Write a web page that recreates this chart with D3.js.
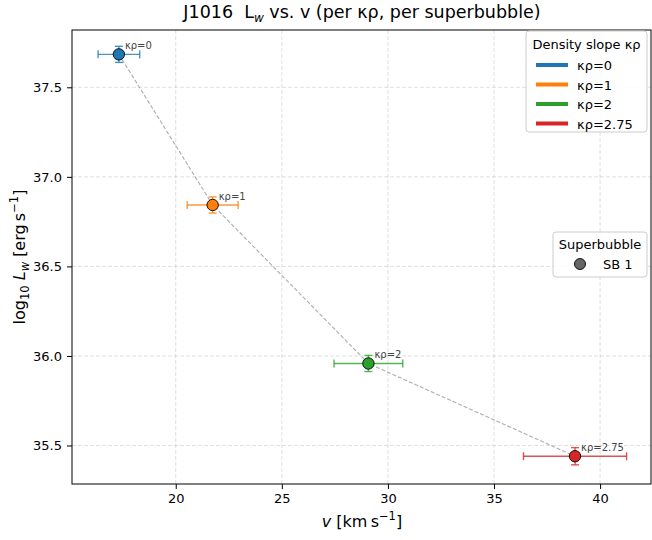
<!DOCTYPE html>
<html><head><meta charset="utf-8">
<script src="https://cdn.jsdelivr.net/npm/d3@7/dist/d3.min.js"></script>
<style>body{margin:0;background:#fff}svg{display:block}text{font-family:"DejaVu Sans",sans-serif;white-space:pre}</style>
</head><body><svg id="c" width="652" height="540"></svg>
<script>
const kappaLabels = ["κρ=0","κρ=1","κρ=2","κρ=2.75"];
const velocity = [17.32, 21.74, 29.08, 38.82];
const velocityErr = [0.98, 1.2, 1.62, 2.43];
const logLw = [37.684, 36.843, 35.958, 35.440];
const logLwErr = [0.045, 0.045, 0.045, 0.048];
const colors = ["#1f77b4","#ff7f0e","#2ca02c","#d62728"];
const xTicks = [20,25,30,35,40];
const yTicks = [35.5,36.0,36.5,37.0,37.5];
const xDomain = [15.11, 42.4];
const yDomain = [35.285, 37.82];

const svg = d3.select("#c");
const L=72, R=651, T=30, B=484;
const x = d3.scaleLinear().domain(xDomain).range([L,R]);
const y = d3.scaleLinear().domain(yDomain).range([B,T]);

// grid
const g = svg.append("g");
g.selectAll(".gx").data(xTicks).enter().append("line")
 .attr("x1",d=>x(d)).attr("x2",d=>x(d)).attr("y1",T).attr("y2",B)
 .attr("stroke","#b0b0b0").attr("stroke-opacity",0.5).attr("stroke-dasharray","4,2").attr("stroke-width",0.8);
g.selectAll(".gy").data(yTicks).enter().append("line")
 .attr("y1",d=>y(d)).attr("y2",d=>y(d)).attr("x1",L).attr("x2",R)
 .attr("stroke","#b0b0b0").attr("stroke-opacity",0.5).attr("stroke-dasharray","4,2").attr("stroke-width",0.8);

// axes
const xa = svg.append("g").attr("transform",`translate(0,${B})`)
 .call(d3.axisBottom(x).tickValues(xTicks).tickSize(5).tickPadding(5).tickFormat(d3.format("d")));
const ya = svg.append("g").attr("transform",`translate(${L},0)`)
 .call(d3.axisLeft(y).tickValues(yTicks).tickSize(5).tickPadding(5).tickFormat(d3.format(".1f")));
[xa,ya].forEach(a=>{a.select(".domain").remove();a.selectAll("text").attr("font-size",13).attr("fill","#000").style("font-family","DejaVu Sans");a.selectAll("line").attr("stroke","#000");});
svg.append("rect").attr("x",L).attr("y",T).attr("width",R-L).attr("height",B-T).attr("fill","none").attr("stroke","#000").attr("stroke-width",1);

// connecting dashed line
const pts = velocity.map((v,i)=>[x(v),y(logLw[i])]);
svg.append("path").attr("d",d3.line()(pts)).attr("fill","none").attr("stroke","#999").attr("stroke-opacity",0.8)
 .attr("stroke-width",1.1).attr("stroke-dasharray","4,2");

// error bars
velocity.forEach((v,i)=>{
  const c=colors[i], cy=y(logLw[i]), cx=x(v);
  const eg=svg.append("g").attr("stroke",c).attr("stroke-width",1.4).attr("stroke-opacity",0.8);
  const x0=x(v-velocityErr[i]), x1=x(v+velocityErr[i]);
  const y0=y(logLw[i]-logLwErr[i]), y1=y(logLw[i]+logLwErr[i]);
  eg.append("line").attr("x1",x0).attr("x2",x1).attr("y1",cy).attr("y2",cy);
  eg.append("line").attr("x1",cx).attr("x2",cx).attr("y1",y0).attr("y2",y1);
  [x0,x1].forEach(xx=>eg.append("line").attr("x1",xx).attr("x2",xx).attr("y1",cy-4).attr("y2",cy+4));
  [y0,y1].forEach(yy=>eg.append("line").attr("y1",yy).attr("y2",yy).attr("x1",cx-4).attr("x2",cx+4));
  svg.append("circle").attr("cx",cx).attr("cy",cy).attr("r",5.7).attr("fill",c).attr("stroke","#000").attr("stroke-width",0.9);
  svg.append("text").attr("x",cx+6).attr("y",cy-5).attr("font-size",10).attr("fill","#444").text(kappaLabels[i]);
});

// title
const title = svg.append("text").attr("x",362).attr("y",18).attr("text-anchor","middle").attr("font-size",17.5).attr("fill","#000");
title.append("tspan").text("J1016  L");
title.append("tspan").attr("font-size",12).attr("dy",4).attr("font-style","italic").text("w");
title.append("tspan").attr("dy",-4).text(" vs. v (per κρ, per superbubble)");

// x label
const xl = svg.append("text").attr("x",362).attr("y",527).attr("text-anchor","middle").attr("font-size",16);
xl.append("tspan").attr("font-style","italic").text("v");
xl.append("tspan").text(" [km\u2009s");
xl.append("tspan").attr("font-size",11.5).attr("dy",-7).text("\u22121");
xl.append("tspan").attr("dy",7).text("]");

// y label
const yl = svg.append("text").attr("transform",`translate(25,${(T+B)/2}) rotate(-90)`).attr("text-anchor","middle").attr("font-size",16);
yl.append("tspan").text("log");
yl.append("tspan").attr("font-size",11.5).attr("dy",4).text("10");
yl.append("tspan").attr("dy",-4).attr("font-style","italic").text(" L");
yl.append("tspan").attr("font-size",11.5).attr("dy",4).attr("font-style","italic").text("w");
yl.append("tspan").attr("dy",-4).text(" [erg\u2009s");
yl.append("tspan").attr("font-size",11.5).attr("dy",-7).text("\u22121");
yl.append("tspan").attr("dy",7).text("]");

// legend 1
const l1 = svg.append("g");
l1.append("rect").attr("x",526).attr("y",31).attr("width",121).attr("height",101).attr("rx",3)
 .attr("fill","#fff").attr("fill-opacity",0.85).attr("stroke","#ccc");
l1.append("text").attr("x",586.5).attr("y",49).attr("text-anchor","middle").attr("font-size",13).text("Density slope κρ");
kappaLabels.forEach((k,i)=>{
  const yy=65+i*19.5;
  l1.append("line").attr("x1",536).attr("x2",568).attr("y1",yy).attr("y2",yy).attr("stroke",colors[i]).attr("stroke-width",4);
  l1.append("text").attr("x",577).attr("y",yy+5).attr("font-size",13).text(k);
});

// legend 2
const l2 = svg.append("g");
l2.append("rect").attr("x",553).attr("y",232).attr("width",94).attr("height",45).attr("rx",3)
 .attr("fill","#fff").attr("fill-opacity",0.85).attr("stroke","#ccc");
l2.append("text").attr("x",600).attr("y",249).attr("text-anchor","middle").attr("font-size",13).text("Superbubble");
l2.append("circle").attr("cx",580).attr("cy",264).attr("r",5.5).attr("fill","#666").attr("stroke","#000").attr("stroke-width",0.9);
l2.append("text").attr("x",603).attr("y",269).attr("font-size",13).text("SB 1");
</script></body></html>
